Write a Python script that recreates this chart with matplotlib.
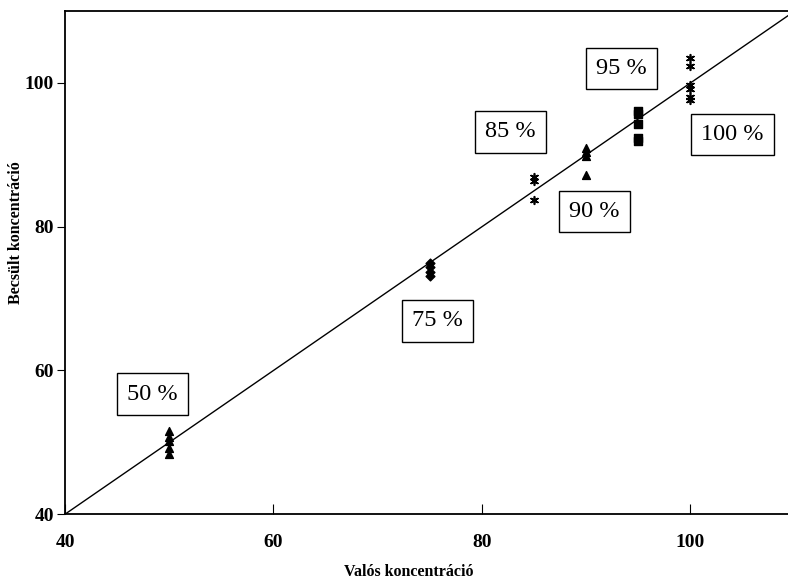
import matplotlib
matplotlib.use("Agg")
import matplotlib.pyplot as plt

plt.rcParams['font.family'] = ['Liberation Serif', 'DejaVu Serif']

x50 = [50, 50, 50, 50, 50]
y50 = [51.6, 50.8, 50.2, 49.2, 48.4]
x75 = [75, 75, 75, 75]
y75 = [75.0, 74.4, 73.7, 73.1]
x85 = [85, 85, 85]
y85 = [86.9, 86.3, 83.7]
x90 = [90, 90, 90, 90]
y90 = [91.0, 90.4, 89.9, 87.2]
x95 = [95, 95, 95, 95, 95]
y95 = [96.1, 95.7, 94.3, 92.4, 91.9]
x100 = [100, 100, 100, 100, 100, 100]
y100 = [103.5, 102.3, 99.7, 99.2, 98.0, 97.6]

labels = ['50 %', '75 %', '85 %', '90 %', '95 %', '100 %']
label_x = [48.4, 75.7, 82.7, 90.8, 93.4, 104.0]
label_y = [56.7, 66.9, 93.2, 82.1, 102.0, 92.8]

ticks = [40, 60, 80, 100]

fig = plt.figure(figsize=(7.88, 5.83), dpi=100)
ax = fig.add_axes([0.0825, 0.118, 0.926, 0.863])

ax.plot([40, 110], [40, 110], color='black', lw=1.0)

ax.scatter(x50, y50, marker='^', color='black', s=32, zorder=3)
ax.scatter(x75, y75, marker='D', color='black', s=20, zorder=3)
ax.scatter(x85, y85, marker=(6, 2, 0), color='black', s=30, lw=1.2, zorder=3)
ax.scatter(x90, y90, marker='^', color='black', s=32, zorder=3)
ax.scatter(x95, y95, marker='s', color='black', s=32, zorder=3)
ax.scatter(x100, y100, marker=(6, 2, 0), color='black', s=30, lw=1.2, zorder=3)

for t, lx, ly in zip(labels, label_x, label_y):
    ax.text(lx, ly, t, fontsize=17.5, ha='center', va='center',
            bbox=dict(boxstyle='square,pad=0.42', fc='white', ec='black', lw=1.0))

ax.set_xlim(40, 110)
ax.set_ylim(40, 110)
ax.set_xticks(ticks)
ax.set_yticks(ticks)
ax.set_xticklabels([str(t) for t in ticks], fontsize=14, fontweight='bold')
ax.set_yticklabels([str(t) for t in ticks], fontsize=14, fontweight='bold')
ax.tick_params(axis='x', direction='in', length=7, pad=14)
ax.tick_params(axis='y', direction='out', length=6, pad=2)

for s in ax.spines.values():
    s.set_linewidth(1.3)

ax.set_xlabel('Valós koncentráció', fontsize=11.5, fontweight='bold')
ax.set_ylabel('Becsült koncentráció', fontsize=11.5, fontweight='bold')
ax.xaxis.set_label_coords(0.471, -0.098)
ax.yaxis.set_label_coords(-0.056, 0.559)

fig.savefig('out.png', dpi=100)
